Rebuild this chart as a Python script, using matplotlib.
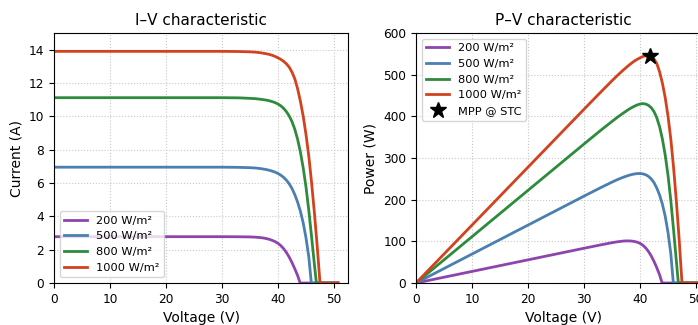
import numpy as np
from matplotlib import pyplot as plt

# irradiance levels and colours
labels = ["200 W/m²", "500 W/m²", "800 W/m²", "1000 W/m²"]
colors = ["#8e44ad", "#4a7fb0", "#2e8b3e", "#d2421f"]

# I-V points (V in volts, I in amps)
v_200 = [0, 10, 20, 30, 33, 35, 36, 37, 37.5, 38, 38.5, 39, 39.5, 40, 40.5, 41, 41.5, 42, 42.5, 43, 43.5, 43.95, 50.7]
i_200 = [2.78, 2.78, 2.78, 2.78, 2.775, 2.765, 2.75, 2.72, 2.695, 2.66, 2.615, 2.555, 2.48, 2.38, 2.24, 2.06,
         1.83, 1.55, 1.22, 0.85, 0.45, 0, 0]

v_500 = [0, 10, 20, 30, 33, 35, 36, 37, 38, 38.5, 39, 39.5, 40, 40.5, 41, 41.5, 42, 42.5, 43, 43.5, 44, 44.5,
         45, 45.5, 45.95, 50.7]
i_500 = [6.95, 6.95, 6.95, 6.95, 6.94, 6.92, 6.9, 6.86, 6.8, 6.76, 6.71, 6.65, 6.57, 6.47, 6.34, 6.17, 5.95,
         5.67, 5.3, 4.85, 4.3, 3.6, 2.7, 1.55, 0, 0]

v_800 = [0, 10, 20, 30, 33, 35, 36, 37, 38, 38.5, 39, 39.5, 40, 40.5, 41, 41.5, 42, 42.5, 43, 43.5, 44, 44.5,
         45, 45.5, 46, 46.5, 46.85, 50.7]
i_800 = [11.12, 11.12, 11.12, 11.12, 11.11, 11.08, 11.06, 11.02, 10.97, 10.93, 10.88, 10.82, 10.74, 10.63,
         10.48, 10.28, 10.02, 9.68, 9.22, 8.62, 7.85, 6.9, 5.75, 4.35, 2.75, 1.1, 0, 0]

v_1000 = [0, 10, 20, 30, 33, 35, 36, 37, 38, 38.5, 39, 39.5, 40, 40.5, 41, 41.5, 42, 42.5, 43, 43.5, 44, 44.5,
          45, 45.5, 46, 46.5, 47, 47.5, 50.7]
i_1000 = [13.9, 13.9, 13.9, 13.9, 13.89, 13.87, 13.85, 13.81, 13.75, 13.71, 13.66, 13.59, 13.51, 13.42, 13.3,
          13.15, 12.95, 12.65, 12.25, 11.65, 10.9, 10.0, 8.9, 7.6, 6.0, 4.2, 2.2, 0, 0]

# maximum power point at STC
mpp_v = 41.8
mpp_p = 545

volts = [v_200, v_500, v_800, v_1000]
amps = [i_200, i_500, i_800, i_1000]

fig = plt.figure(figsize=(6.98, 3.25), dpi=100)
ax1 = fig.add_axes([0.0774, 0.1292, 0.4212, 0.7692])
ax2 = fig.add_axes([0.596, 0.1292, 0.4212, 0.7692])

for v, i, lab, c in zip(volts, amps, labels, colors):
    v = np.array(v)
    i = np.array(i)
    ax1.plot(v, i, color=c, lw=2, label=lab)
    ax2.plot(v, v * i, color=c, lw=2, label=lab)

ax2.plot([mpp_v], [mpp_p], "*", color="black", ms=12, ls="none", label="MPP @ STC")

ax1.set_xlim(0, 52.5)
ax1.set_ylim(0, 15)
ax1.set_yticks(np.arange(0, 15, 2))
ax2.set_xlim(0, 52.5)
ax2.set_ylim(0, 600)

ax1.set_title("I–V characteristic", fontsize=11)
ax1.set_xlabel("Voltage (V)", fontsize=10)
ax1.set_ylabel("Current (A)", fontsize=10)
ax2.set_title("P–V characteristic", fontsize=11)
ax2.set_xlabel("Voltage (V)", fontsize=10)
ax2.set_ylabel("Power (W)", fontsize=10)

for ax in (ax1, ax2):
    ax.set_xticks(np.arange(0, 51, 10))
    ax.grid(True, ls=":", color="#c8c8c8", lw=0.8)
    ax.tick_params(labelsize=8.7)

ax1.legend(loc="lower left", fontsize=8.2)
ax2.legend(loc="upper left", fontsize=8.2)

plt.savefig("out.png", dpi=100)
